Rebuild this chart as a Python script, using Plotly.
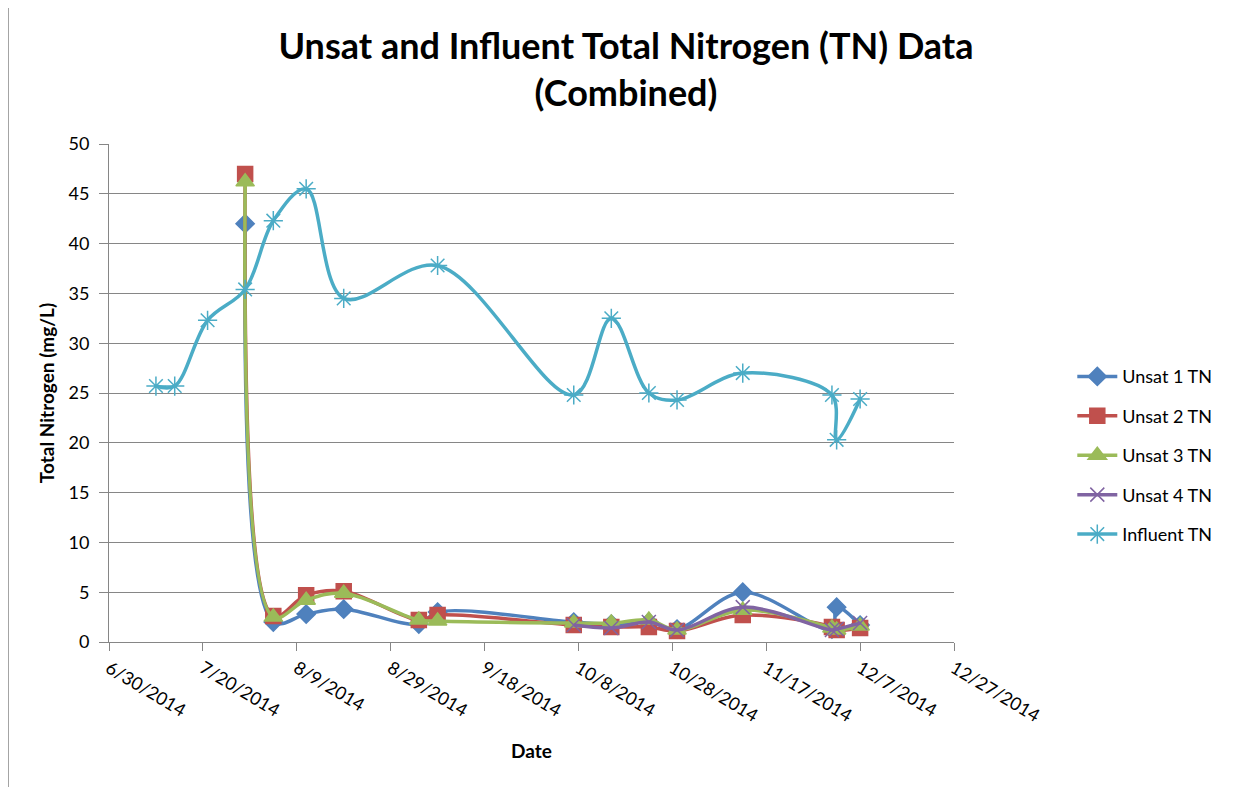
import plotly.graph_objects as go

# ---- data ----
unsat_dates = ["2014-07-29", "2014-08-04", "2014-08-11", "2014-08-19", "2014-09-04", "2014-09-08",
               "2014-10-07", "2014-10-15", "2014-10-23", "2014-10-29", "2014-11-12",
               "2014-12-01", "2014-12-02", "2014-12-07"]
unsat1 = [42.0, 2.0, 2.8, 3.3, 1.8, 3.0, 2.0, 1.8, 2.0, 1.3, 5.0, 1.3, 3.5, 1.7]
unsat2 = [47.0, 2.6, 4.7, 5.1, 2.2, 2.7, 1.7, 1.5, 1.5, 1.1, 2.7, 1.5, 1.2, 1.4]
unsat3 = [46.2, 2.5, 4.2, 4.9, 2.2, 2.1, 1.9, 1.9, 2.2, 1.2, 3.2, 1.4, 1.2, 1.6]

unsat4_dates = ["2014-10-07", "2014-10-15", "2014-10-23", "2014-10-29", "2014-11-12",
                "2014-12-01", "2014-12-02", "2014-12-07"]
unsat4 = [1.7, 1.4, 2.0, 1.2, 3.5, 1.2, 1.3, 1.9]

influent_dates = ["2014-07-10", "2014-07-14", "2014-07-21", "2014-07-29", "2014-08-04", "2014-08-11",
                  "2014-08-19", "2014-09-08", "2014-10-07", "2014-10-15", "2014-10-23", "2014-10-29",
                  "2014-11-12", "2014-12-01", "2014-12-02", "2014-12-07"]
influent = [25.7, 25.7, 32.3, 35.4, 42.3, 45.5, 34.5, 37.8, 24.8, 32.5, 25.0, 24.3, 27.0, 24.8, 20.3, 24.4]

tick_dates = ["2014-06-30", "2014-07-20", "2014-08-09", "2014-08-29", "2014-09-18",
              "2014-10-08", "2014-10-28", "2014-11-17", "2014-12-07", "2014-12-27"]
tick_labels = ["6/30/2014", "7/20/2014", "8/9/2014", "8/29/2014", "9/18/2014",
               "10/8/2014", "10/28/2014", "11/17/2014", "12/7/2014", "12/27/2014"]

FONT = "Lato, 'Open Sans', sans-serif"

series = [
    ("Unsat 1 TN", unsat_dates, unsat1, "#4F81BD", "diamond", 14),
    ("Unsat 2 TN", unsat_dates, unsat2, "#C0504D", "square", 15),
    ("Unsat 3 TN", unsat_dates, unsat3, "#9BBB59", "triangle-up", 16),
    ("Unsat 4 TN", unsat4_dates, unsat4, "#8064A2", "x-thin-open", 14),
    ("Influent TN", influent_dates, influent, "#4BACC6", "asterisk-open", 16),
]

fig = go.Figure()
for i, (name, xs, ys, col, sym, sz) in enumerate(series):
    fig.add_trace(go.Scatter(
        x=xs, y=ys, name=name, mode="lines+markers",
        line=dict(color=col, width=3.5, shape="spline", smoothing=1.0),
        marker=dict(symbol=sym, size=sz, color=col, line=dict(color=col, width=1.5)),
        legendgroup=f"g{i}",
    ))

# page body adds an 8px offset; margins compensate
fig.update_layout(
    width=1236, height=787,
    margin=dict(l=101, r=290, t=136, b=153),
    paper_bgcolor="white", plot_bgcolor="white",
    font=dict(family=FONT, size=18, color="#000000"),
    title=dict(text="<b>Unsat and Influent Total Nitrogen (TN) Data<br>(Combined)</b>",
               x=0.5, xanchor="center", y=0.935, yanchor="middle",
               font=dict(family=FONT, size=36, color="#000000")),
    showlegend=True,
    legend=dict(x=1.14, xanchor="left", y=0.375, yanchor="middle",
                traceorder="grouped", tracegroupgap=13,
                font=dict(family=FONT, size=18), itemwidth=40,
                bgcolor="rgba(0,0,0,0)"),
    xaxis=dict(
        type="date", range=["2014-06-30", "2014-12-27"],
        tickmode="array", tickvals=tick_dates, ticktext=tick_labels,
        tickangle=31, tickfont=dict(family=FONT, size=18),
        showgrid=False, showline=True, linecolor="#868686", linewidth=1,
        ticks="outside", ticklen=8, tickcolor="#868686",
        title=dict(text="<b>Date</b>", font=dict(family=FONT, size=19), standoff=19),
        zeroline=False,
    ),
    yaxis=dict(
        range=[0, 50], dtick=5, tickfont=dict(family=FONT, size=18),
        showgrid=True, gridcolor="#868686", gridwidth=1,
        showline=True, linecolor="#868686", linewidth=1,
        ticks="outside", ticklen=9, tickcolor="#868686", ticklabelstandoff=6,
        title=dict(text="<b>Total Nitrogen (mg/L)</b>", font=dict(family=FONT, size=19), standoff=8),
        zeroline=False,
    ),
)

# chart-area border on left edge
fig.add_shape(type="line", xref="paper", yref="paper",
              x0=(0 - 101) / 845, x1=(0 - 101) / 845, y0=-0.3, y1=1.3,
              line=dict(color="#868686", width=1.5))

fig.write_html("out.html")
